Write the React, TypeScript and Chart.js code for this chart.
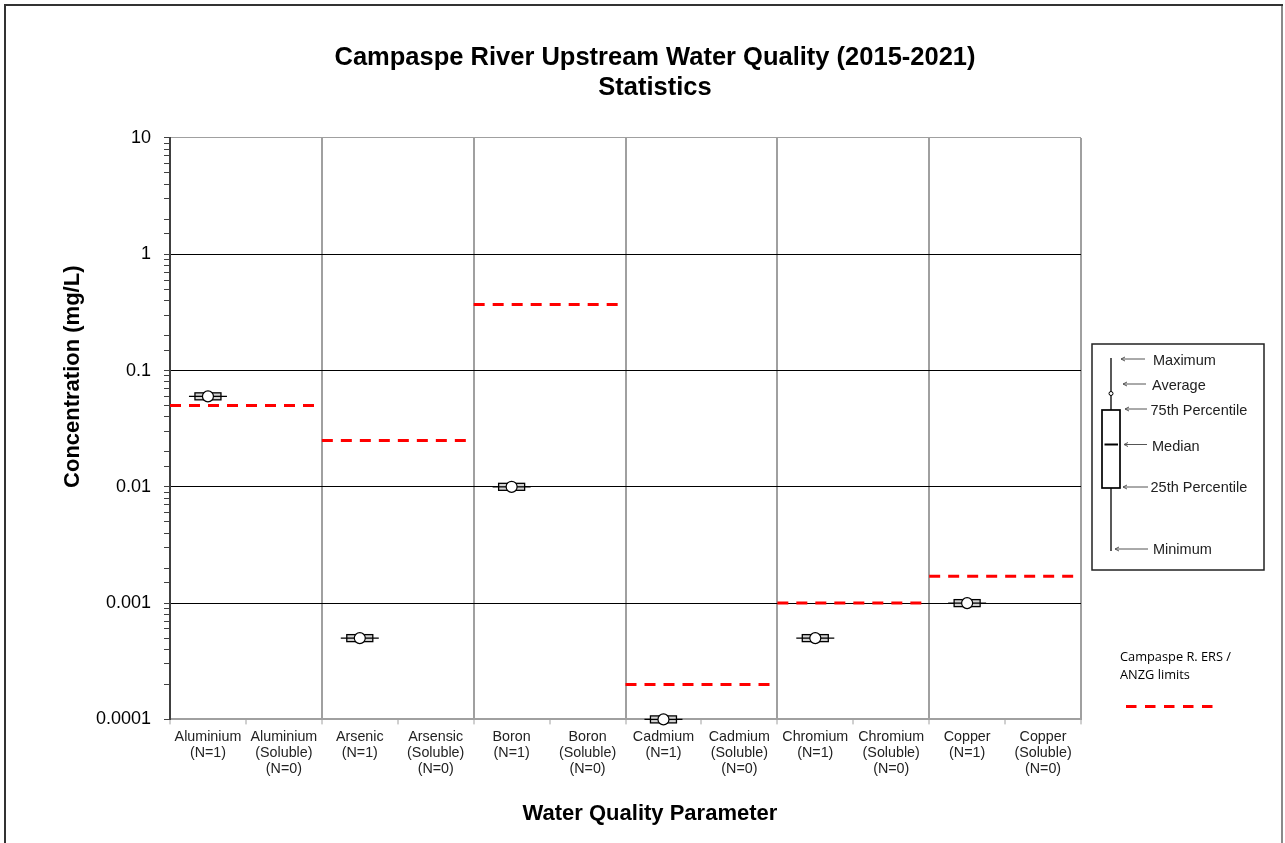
import React, { useEffect, useRef } from 'react';
import { Chart, registerables } from 'chart.js';

Chart.register(...registerables);

const FONT = '"Liberation Sans", Arial, sans-serif';

const categories: string[][] = [
  ['Aluminium', '(N=1)'],
  ['Aluminium', '(Soluble)', '(N=0)'],
  ['Arsenic', '(N=1)'],
  ['Arsensic', '(Soluble)', '(N=0)'],
  ['Boron', '(N=1)'],
  ['Boron', '(Soluble)', '(N=0)'],
  ['Cadmium', '(N=1)'],
  ['Cadmium', '(Soluble)', '(N=0)'],
  ['Chromium', '(N=1)'],
  ['Chromium', '(Soluble)', '(N=0)'],
  ['Copper', '(N=1)'],
  ['Copper', '(Soluble)', '(N=0)'],
];

const minimums = [0.06, null, 0.0005, null, 0.01, null, 0.0001, null, 0.0005, null, 0.001, null];
const percentile25 = [0.06, null, 0.0005, null, 0.01, null, 0.0001, null, 0.0005, null, 0.001, null];
const medians = [0.06, null, 0.0005, null, 0.01, null, 0.0001, null, 0.0005, null, 0.001, null];
const percentile75 = [0.06, null, 0.0005, null, 0.01, null, 0.0001, null, 0.0005, null, 0.001, null];
const maximums = [0.06, null, 0.0005, null, 0.01, null, 0.0001, null, 0.0005, null, 0.001, null];
const averages = [0.06, null, 0.0005, null, 0.01, null, 0.0001, null, 0.0005, null, 0.001, null];

const limitGroups = ['Aluminium', 'Arsenic', 'Boron', 'Cadmium', 'Chromium', 'Copper'];
const limitValues = [0.05, 0.025, 0.37, 0.0002, 0.001, 0.0017];

const yTickLabels = ['0.0001', '0.001', '0.01', '0.1', '1', '10'];
const legendItems = ['Maximum', 'Average', '75th Percentile', 'Median', '25th Percentile', 'Minimum'];
const limitLegendText = ['Campaspe R. ERS /', 'ANZG limits'];

const NBSP = '\u00a0';
const xTitle = 'Water Quality Parameter';
const yTitle = 'Concentration (mg/L)';

const isDecade = (v: number) => {
  const l = Math.log10(v);
  return Math.abs(l - Math.round(l)) < 1e-6;
};

const framePlugin = {
  id: 'frame',
  beforeDraw(chart: any) {
    const ctx = chart.ctx;
    ctx.save();
    ctx.fillStyle = '#ffffff';
    ctx.fillRect(0, 0, chart.width, chart.height);
    ctx.lineWidth = 2;
    ctx.strokeStyle = '#8a8a8a';
    ctx.beginPath();
    ctx.moveTo(1282, 5);
    ctx.lineTo(1282, chart.height);
    ctx.stroke();
    ctx.strokeStyle = '#333333';
    ctx.beginPath();
    ctx.moveTo(5, chart.height);
    ctx.lineTo(5, 5);
    ctx.lineTo(1283, 5);
    ctx.stroke();
    ctx.restore();
  },
};

const boxPlugin = {
  id: 'boxWhisker',
  beforeDatasetsDraw(chart: any) {
    const ctx = chart.ctx;
    const xs = chart.scales.x;
    const ys = chart.scales.y;
    ctx.save();
    for (let i = 0; i < categories.length; i++) {
      if (medians[i] == null) continue;
      const cx = xs.getPixelForValue(i + 0.5);
      const yMin = ys.getPixelForValue(minimums[i]);
      const yMax = ys.getPixelForValue(maximums[i]);
      const yQ1 = ys.getPixelForValue(percentile25[i]);
      const yQ3 = ys.getPixelForValue(percentile75[i]);
      const yMed = ys.getPixelForValue(medians[i]);
      ctx.strokeStyle = '#000';
      ctx.lineWidth = 1.3;
      ctx.beginPath();
      ctx.moveTo(cx, yMax);
      ctx.lineTo(cx, yMin);
      ctx.moveTo(cx - 19, yMin);
      ctx.lineTo(cx + 19, yMin);
      ctx.moveTo(cx - 19, yMax);
      ctx.lineTo(cx + 19, yMax);
      ctx.stroke();
      const top = yQ3 - 3.5;
      const bottom = yQ1 + 3.5;
      ctx.fillStyle = '#d4d4d4';
      ctx.fillRect(cx - 13, top, 26, bottom - top);
      ctx.strokeRect(cx - 13, top, 26, bottom - top);
      ctx.beginPath();
      ctx.moveTo(cx - 13, yMed);
      ctx.lineTo(cx + 13, yMed);
      ctx.stroke();
    }
    ctx.restore();
  },
};

const legendPlugin = {
  id: 'sideLegend',
  afterDraw(chart: any) {
    const ctx = chart.ctx;
    ctx.save();
    ctx.strokeStyle = '#222';
    ctx.lineWidth = 1.5;
    ctx.strokeRect(1092, 344, 172, 226);
    ctx.lineWidth = 1.3;
    ctx.strokeStyle = '#000';
    ctx.beginPath();
    ctx.moveTo(1111, 358);
    ctx.lineTo(1111, 551);
    ctx.stroke();
    ctx.fillStyle = '#fff';
    ctx.fillRect(1102, 410, 18, 78);
    ctx.lineWidth = 1.7;
    ctx.strokeRect(1102, 410, 18, 78);
    ctx.lineWidth = 2;
    ctx.beginPath();
    ctx.moveTo(1104.5, 444.5);
    ctx.lineTo(1118, 444.5);
    ctx.stroke();
    ctx.lineWidth = 1;
    ctx.beginPath();
    ctx.arc(1111, 393.5, 2, 0, Math.PI * 2);
    ctx.fill();
    ctx.stroke();
    const arrows = [
      [1121, 1145, 359],
      [1123, 1146, 384],
      [1125, 1147, 409],
      [1124, 1147, 444.5],
      [1123, 1148, 487],
      [1115, 1148, 549],
    ];
    const textPos = [
      [1153, 361],
      [1152, 385.5],
      [1150.5, 411],
      [1152, 447],
      [1150.5, 488],
      [1153, 549.5],
    ];
    ctx.strokeStyle = '#555';
    ctx.lineWidth = 1;
    arrows.forEach(([x1, x2, y]) => {
      ctx.beginPath();
      ctx.moveTo(x1, y);
      ctx.lineTo(x2, y);
      ctx.moveTo(x1 + 4, y - 2);
      ctx.lineTo(x1, y);
      ctx.lineTo(x1 + 4, y + 2);
      ctx.stroke();
    });
    ctx.fillStyle = '#222';
    ctx.font = '14.5px ' + FONT;
    ctx.textBaseline = 'middle';
    ctx.textAlign = 'left';
    legendItems.forEach((t, i) => {
      ctx.fillText(t, textPos[i][0], textPos[i][1]);
    });
    ctx.fillStyle = '#000';
    ctx.font = '12.8px "Open Sans", sans-serif';
    ctx.fillText(limitLegendText[0], 1120, 657);
    ctx.fillText(limitLegendText[1], 1120, 675);
    ctx.strokeStyle = '#ff0000';
    ctx.lineWidth = 3;
    ctx.setLineDash([10.5, 8.5]);
    ctx.beginPath();
    ctx.moveTo(1126, 706.5);
    ctx.lineTo(1214, 706.5);
    ctx.stroke();
    ctx.restore();
  },
};

export default function App() {
  const canvasRef = useRef<HTMLCanvasElement | null>(null);

  useEffect(() => {
    const canvas = canvasRef.current;
    if (!canvas) return;

    const limitDatasets = limitGroups.map((g, gi) => ({
      type: 'scatter' as const,
      label: g + ' limit',
      data: [
        { x: gi * 2, y: limitValues[gi] },
        { x: gi * 2 + 2, y: limitValues[gi] },
      ],
      showLine: true,
      borderColor: '#ff0000',
      borderWidth: 3,
      borderDash: [11, 8],
      pointRadius: 0,
      xAxisID: 'x',
      yAxisID: 'y',
      order: 1,
    }));

    const avgData = averages
      .map((v, i) => (v == null ? null : { x: i + 0.5, y: v }))
      .filter((p) => p !== null);

    const chart = new Chart(canvas, {
      type: 'scatter',
      data: {
        datasets: [
          ...limitDatasets,
          {
            label: 'Average',
            data: avgData as any,
            pointStyle: 'circle',
            pointRadius: 5.5,
            pointBackgroundColor: '#ffffff',
            pointBorderColor: '#000000',
            pointBorderWidth: 1.2,
            clip: false,
            xAxisID: 'x',
            yAxisID: 'y',
            order: 0,
          } as any,
        ],
      },
      options: {
        animation: false,
        responsive: false,
        devicePixelRatio: 1,
        layout: { padding: { left: 35, right: 10, top: 0, bottom: 0 } },
        plugins: {
          legend: { display: false },
          tooltip: { enabled: false },
          title: {
            display: true,
            text: ['Campaspe River Upstream Water Quality (2015-2021)', 'Statistics'],
            color: '#000',
            font: { family: FONT, size: 25.5, weight: 'bold', lineHeight: 1.176 },
            padding: { top: 43, bottom: 35 },
          },
        },
        scales: {
          x: {
            type: 'linear',
            position: 'bottom',
            min: 0,
            max: 12,
            ticks: { display: false, stepSize: 1 },
            grid: {
              color: (c: any) => {
                const v = c.tick ? c.tick.value : -1;
                return v > 0 && v % 2 === 0 ? '#a0a0a0' : 'rgba(0,0,0,0)';
              },
              lineWidth: 2,
              tickColor: '#a0a0a0',
              tickWidth: 1,
              tickLength: 5,
            },
            border: { display: true, color: '#a0a0a0', width: 2 },
          },
          xLabels: {
            type: 'category',
            position: 'bottom',
            labels: categories as any,
            offset: true,
            grid: { display: false },
            border: { display: false },
            ticks: {
              color: '#222',
              font: { family: FONT, size: 14.3, lineHeight: '16px' },
              padding: -3,
              maxRotation: 0,
              autoSkip: false,
            },
            title: {
              display: true,
              text: NBSP.repeat(8) + xTitle,
              color: '#000',
              font: { family: FONT, size: 22, weight: 'bold' },
              padding: { top: 26.6, bottom: 15.6 },
            },
          },
          y: {
            type: 'logarithmic',
            position: 'left',
            min: 0.0001,
            max: 10,
            afterFit: (s: any) => {
              s.width = 135;
            },
            ticks: {
              autoSkip: false,
              color: '#000',
              padding: 13,
              font: { family: FONT, size: 18 },
              callback: (value: any) => {
                const v = Number(value);
                return isDecade(v) ? yTickLabels[Math.round(Math.log10(v)) + 4] : '';
              },
            },
            grid: {
              color: (c: any) => {
                const v = c.tick ? c.tick.value : 0;
                if (!isDecade(v)) return 'rgba(0,0,0,0)';
                if (v <= 0.00011) return 'rgba(0,0,0,0)';
                if (v >= 9.9) return '#a0a0a0';
                return '#000';
              },
              lineWidth: 1,
              tickColor: '#404040',
              tickWidth: 1,
              tickLength: 6,
            },
            border: { display: true, color: '#404040', width: 2 },
            title: {
              display: true,
              text: NBSP.repeat(17) + yTitle,
              color: '#000',
              font: { family: FONT, size: 22, weight: 'bold' },
              padding: { top: 25, bottom: 0 },
            },
          },
          yPad: {
            type: 'linear',
            position: 'right',
            display: true,
            afterFit: (s: any) => {
              s.width = 194;
            },
            ticks: { display: false },
            grid: { display: false },
            border: { display: false },
          },
        },
      } as any,
      plugins: [framePlugin, boxPlugin, legendPlugin],
    });

    return () => {
      chart.destroy();
    };
  }, []);

  return (
    <div style={{ position: 'absolute', left: 0, top: 0, width: 1285, height: 843, overflow: 'hidden' }}>
      <canvas ref={canvasRef} width={1285} height={843} style={{ display: 'block' }} />
    </div>
  );
}
